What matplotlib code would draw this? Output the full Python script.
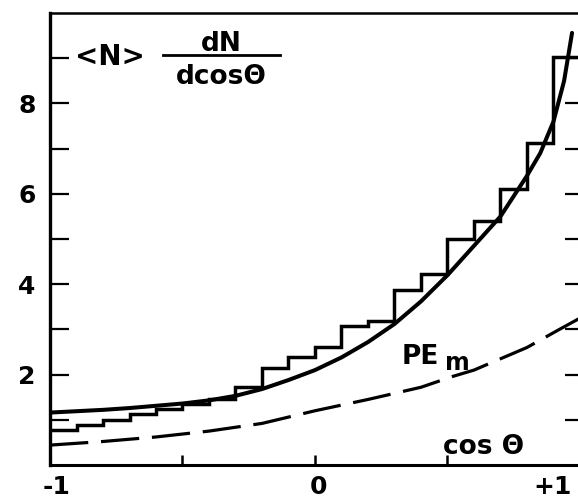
import numpy as np
import matplotlib.pyplot as plt
from matplotlib.transforms import ScaledTranslation

# measured distribution, 20 bins in cos(theta)
edges = np.round(np.linspace(-1.0, 1.0, 21), 2)
counts = [0.78, 0.89, 1.00, 1.12, 1.25, 1.36, 1.46, 1.73, 2.14, 2.38,
          2.60, 3.07, 3.18, 3.88, 4.22, 5.00, 5.40, 6.10, 7.13, 9.02]

# full calculation (solid)
fit_x = [-1.0, -0.9, -0.8, -0.7, -0.6, -0.5, -0.4, -0.3, -0.2, -0.1, 0.0,
         0.1, 0.2, 0.3, 0.4, 0.5, 0.6, 0.7, 0.8, 0.85, 0.9, 0.94, 0.97]
fit_y = [1.16, 1.19, 1.22, 1.26, 1.31, 1.36, 1.43, 1.53, 1.68, 1.88, 2.10,
         2.38, 2.72, 3.12, 3.62, 4.20, 4.85, 5.50, 6.40, 6.90, 7.60, 8.50, 9.56]

# PE_m curve (dashed)
pe_x = [-1.0, -0.8, -0.6, -0.4, -0.2, 0.0, 0.2, 0.4, 0.52, 0.6, 0.8, 0.91, 1.0]
pe_y = [0.44, 0.52, 0.62, 0.75, 0.92, 1.20, 1.45, 1.72, 1.96, 2.10, 2.60, 2.96, 3.25]

plt.rcParams['font.family'] = ['DejaVu Sans']
plt.rcParams['font.weight'] = 'bold'

fig = plt.figure(figsize=(5.78, 4.99), dpi=100)
ax = fig.add_axes([50 / 578, 34 / 499, 530 / 578, 452 / 499])

ax.stairs(counts, edges, baseline=None, color='k', lw=2.5)
ax.plot(fit_x, fit_y, color='k', lw=2.9, solid_capstyle='round')
ax.plot(pe_x, pe_y, color='k', lw=2.3, dashes=(12, 4))

ax.set_xlim(-1, 1)
ax.set_ylim(0, 10)

for side, lw in [('left', 2.4), ('bottom', 2.2), ('top', 1.8), ('right', 2.0)]:
    ax.spines[side].set_linewidth(lw)

ax.set_yticks([2, 4, 6, 8], ['2', '4', '6', '8'])
ax.set_yticks([1, 3, 5, 7, 9], minor=True)
ax.tick_params(axis='y', which='both', direction='in', length=14, width=1.6,
               labelsize=18, pad=10.5, right=False)

ax.set_xticks([-1, 0, 1], ['-1', '0', '+1'])
ax.set_xticks([-0.5, 0.5], minor=True)
ax.tick_params(axis='x', which='both', direction='in', length=7, width=1.8,
               labelsize=18, pad=7)
shifts = [7, 4, -27]
for lab, dx in zip(ax.get_xticklabels(), shifts):
    lab.set_transform(lab.get_transform() + ScaledTranslation(dx / 100, 0, fig.dpi_scale_trans))

# right-hand ticks, shorter
ax2 = ax.twinx()
ax2.set_ylim(0, 10)
ax2.set_yticks(range(1, 10))
ax2.tick_params(axis='y', direction='in', length=11, width=1.6, labelright=False)
for s in ax2.spines.values():
    s.set_visible(False)

# axis title in upper left
ax.text(-0.906, 8.84, '<N>', fontsize=20, ha='left', va='baseline')
ax.text(-0.355, 9.16, 'dN', fontsize=19, ha='center', va='baseline')
ax.text(-0.355, 8.44, 'dcos\u0398', fontsize=19, ha='center', va='baseline')
ax.plot([-0.574, -0.132], [9.08, 9.08], color='k', lw=2.0, clip_on=False)

ax.text(0.328, 2.24, 'PE', fontsize=19, ha='left', va='baseline')
ax.text(0.49, 2.11, 'm', fontsize=17, ha='left', va='baseline')
ax.text(0.483, 0.24, 'cos \u0398', fontsize=19, ha='left', va='baseline')

fig.savefig('out.png', dpi=100)
